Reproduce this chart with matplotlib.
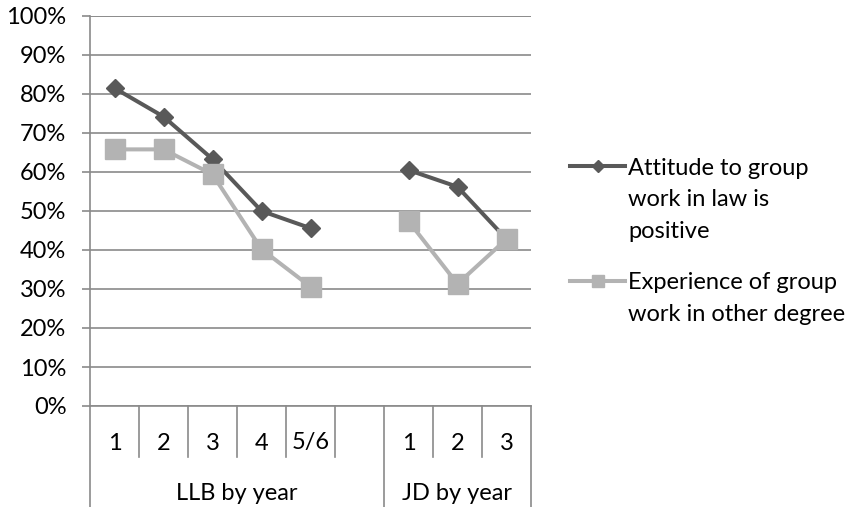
import numpy as np
import matplotlib
matplotlib.use("Agg")
import matplotlib.pyplot as plt
from matplotlib.lines import Line2D

plt.rcParams["font.family"] = ["Lato", "DejaVu Sans"]

# Category axis: year within each degree (blank slot separates the groups)
year_labels = ["1", "2", "3", "4", "5/6", "", "1", "2", "3"]
groups = ["LLB by year", "JD by year"]
group_sizes = [6, 3]

# Percentages per category (NaN = no data in the blank slot)
attitude_positive = [81.5, 74.2, 63.3, 50.0, 45.6, np.nan, 60.5, 56.2, 42.8]
experience_other = [65.8, 65.8, 59.4, 40.2, 30.6, np.nan, 47.4, 31.3, 42.8]

series_names = ["Attitude to group\nwork in law is\npositive",
                "Experience of group\nwork in other degree"]
dark = "#595959"
light = "#b3b3b3"
grid_c = "#8a8a8a"
fs = 17

W, H = 860, 507
fig = plt.figure(figsize=(W / 100, H / 100), dpi=100)
L, R, T, B = 90, 531, 16, 406
ax = fig.add_axes([L / W, 1 - B / H, (R - L) / W, (B - T) / H])

x = np.arange(len(year_labels)) + 0.5
ax.plot(x, attitude_positive, color=dark, lw=2.9, marker="D", ms=9,
        mfc=dark, mec=dark, zorder=3, clip_on=False)
ax.plot(x, experience_other, color=light, lw=2.9, marker="s", ms=14,
        mfc=light, mec=light, zorder=4, clip_on=False)

ax.set_xlim(0, len(year_labels))
ax.set_ylim(0, 100)
ax.set_yticks(np.arange(0, 101, 10))
ax.set_yticklabels([f"{v}%" for v in range(0, 101, 10)], fontsize=fs)
ax.yaxis.grid(True, color=grid_c, lw=1.2)
ax.set_axisbelow(True)
ax.tick_params(axis="y", length=6, width=1.2, color=grid_c, pad=11)
for s in ["top", "right"]:
    ax.spines[s].set_visible(False)
ax.spines["left"].set_color(grid_c)
ax.spines["left"].set_linewidth(1.2)
ax.spines["bottom"].set_color(grid_c)
ax.spines["bottom"].set_linewidth(1.2)

# Top gridline at 100%
ax.axhline(100, color=grid_c, lw=1.2, zorder=0.5)

# Category labels and separators below the axis
ax.set_xticks([])
tr = ax.get_xaxis_transform()
px = 1.0 / (B - T)
for xi, lab in zip(x, year_labels):
    ax.text(xi, -(443 - B) * px, lab, transform=tr, ha="center", va="center",
            fontsize=fs)

bounds = np.concatenate([[0], np.cumsum(group_sizes)])
for i in range(len(year_labels) + 1):
    if i in bounds:
        y_end = -(H + 2 - B) * px
    else:
        y_end = -(457 - B) * px
    ax.add_artist(Line2D([i, i], [0, y_end], transform=tr, color=grid_c,
                         lw=1.2, clip_on=False))

for g, a, b in zip(groups, bounds[:-1], bounds[1:]):
    ax.text((a + b) / 2, -(494 - B) * px, g, transform=tr, ha="center",
            va="center", fontsize=fs)

# Legend drawn beside the plot
def fx(p):
    return p / W

def fy(p):
    return 1 - p / H

legend_rows = [(166, 238, dark, "D", 6.5), (281, 321, light, "s", 8.5)]
for (hy, by, c, m, ms), name in zip(legend_rows, series_names):
    fig.add_artist(Line2D([fx(570), fx(625)], [fy(hy), fy(hy)], color=c,
                          lw=2.9, transform=fig.transFigure))
    fig.add_artist(Line2D([fx(597.5)], [fy(hy)], color=c, marker=m, ms=ms,
                          mfc=c, mec=c, transform=fig.transFigure))
    fig.text(fx(628), fy(by), name, ha="left", va="baseline", fontsize=fs,
             linespacing=1.62)

fig.savefig("out.png", dpi=100)
